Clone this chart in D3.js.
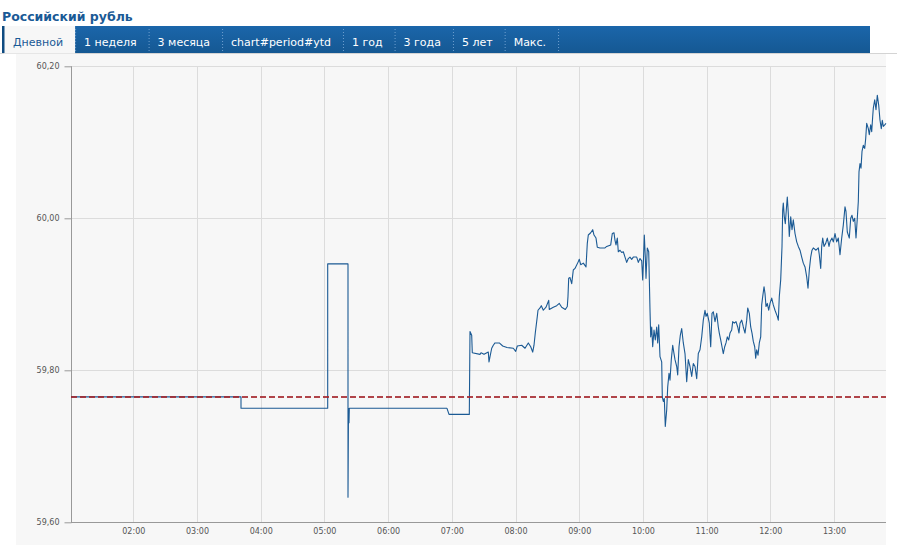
<!DOCTYPE html>
<html>
<head>
<meta charset="utf-8">
<script src="https://cdn.jsdelivr.net/npm/d3@7"></script>
<style>
html,body{margin:0;padding:0;background:#fff;}
svg{display:block;}
</style>
</head>
<body>
<svg id="chart" width="897" height="545"></svg>
<script>
const title = "Российский рубль";
const tabs = ["Дневной", "1 неделя", "3 месяца", "chart#period#ytd", "1 год", "3 года", "5 лет", "Макс."];
const yTicks = [59.6, 59.8, 60.0, 60.2];
const xTickTimes = ["02:00","03:00","04:00","05:00","06:00","07:00","08:00","09:00","10:00","11:00","12:00","13:00"];
const previousClose = 59.765;

const times = [
"01:01:19","03:41:26","03:41:26","05:03:06","05:03:06","05:22:13","05:22:13","05:22:42","05:23:10","05:23:28",
"06:55:28","06:57:22","07:16:29","07:17:08","07:18:44","07:19:18","07:26:34","07:27:30","07:30:20","07:34:22",
"07:35:02","07:35:59","07:37:35","07:39:05","07:40:41","07:44:44","07:47:56","07:51:59","07:57:55","08:00:11",
"08:01:41","08:05:50","08:08:57","08:12:03","08:14:19","08:16:11","08:17:25","08:18:38","08:20:32","08:21:11",
"08:23:04","08:24:18","08:26:11","08:28:43","08:31:16","08:31:50","08:35:36","08:38:48","08:41:15","08:43:31",
"08:46:54","08:48:47","08:49:26","08:50:06","08:51:20","08:52:56","08:54:26","08:56:02","08:59:09","09:00:05",
"09:01:25","09:03:52","09:06:24","09:07:37","09:08:34","09:10:50","09:12:43","09:13:56","09:15:49","09:17:02",
"09:19:35","09:24:18","09:25:54","09:29:40","09:31:10","09:32:46","09:33:43","09:34:40","09:35:53","09:36:49",
"09:38:25","09:40:01","09:41:32","09:43:08","09:44:44","09:46:14","09:47:50","09:49:26","09:50:57","09:54:09",
"09:55:40","09:57:16","09:58:52","09:59:48","10:00:22","10:01:19","10:02:15","10:02:55","10:04:08","10:05:28",
"10:06:01","10:06:41","10:07:20","10:08:17","10:09:13","10:10:27","10:11:40","10:12:59","10:13:56","10:14:52",
"10:16:06","10:17:42","10:18:16","10:19:13","10:20:09","10:21:05","10:22:25","10:23:21","10:24:35","10:25:31",
"10:26:44","10:28:04","10:29:17","10:30:14","10:31:50","10:32:46","10:34:00","10:35:13","10:36:32","10:38:03",
"10:39:39","10:41:15","10:42:45","10:44:21","10:45:58","10:47:28","10:49:04","10:50:40","10:52:10","10:53:46",
"10:55:23","10:56:53","10:58:29","10:59:26","11:00:39","11:02:32","11:03:51","11:05:05","11:06:18","11:07:55",
"11:09:31","11:11:01","11:11:57","11:13:16","11:14:30","11:15:43","11:17:02","11:18:16","11:19:29","11:20:49",
"11:22:02","11:23:38","11:24:35","11:26:05","11:27:41","11:29:17","11:30:31","11:31:27","11:33:04","11:34:34",
"11:36:10","11:37:46","11:38:43","11:40:13","11:41:32","11:42:46","11:43:59","11:45:18","11:46:14","11:47:11",
"11:48:25","11:49:38","11:50:57","11:51:53","11:52:50","11:54:04","11:55:00","11:55:56","11:57:10","11:58:29",
"11:59:43","12:01:19","12:02:49","12:04:25","12:06:35","12:07:32","12:08:28","12:09:47","12:11:01","12:11:40",
"12:12:14","12:13:11","12:14:07","12:15:04","12:16:00","12:16:56","12:17:53","12:19:13","12:20:26","12:21:39",
"12:23:16","12:24:52","12:26:22","12:27:58","12:29:34","12:31:04","12:32:41","12:34:17","12:35:30","12:36:44",
"12:38:03","12:39:16","12:40:29","12:43:02","12:45:12","12:46:08","12:47:28","12:48:24","12:49:21","12:50:34",
"12:52:10","12:53:41","12:55:17","12:56:13","12:58:06","12:59:20","13:00:56","13:02:32","13:04:02","13:05:38",
"13:07:14","13:08:45","13:10:21","13:11:17","13:12:31","13:14:24","13:15:43","13:16:56","13:18:10","13:19:29",
"13:20:43","13:21:56","13:22:53","13:23:32","13:24:29","13:25:25","13:26:22","13:27:35","13:28:55","13:29:51",
"13:30:47","13:32:18","13:33:14","13:34:34","13:35:30","13:36:26","13:37:01","13:38:20","13:39:33","13:40:46",
"13:42:05","13:43:19","13:44:32","13:45:29","13:46:26","13:47:44","13:48:58"
];

const rates = [
59.765,59.765,59.750,59.750,59.940,59.940,59.633,59.750,59.731,59.750,
59.750,59.742,59.742,59.851,59.846,59.823,59.821,59.823,59.821,59.824,
59.811,59.818,59.829,59.833,59.836,59.836,59.832,59.830,59.829,59.825,
59.832,59.833,59.829,59.836,59.831,59.824,59.833,59.849,59.871,59.879,
59.882,59.885,59.879,59.883,59.892,59.880,59.883,59.885,59.888,59.883,
59.880,59.884,59.897,59.921,59.922,59.914,59.932,59.934,59.943,59.946,
59.939,59.941,59.936,59.967,59.978,59.981,59.985,59.978,59.974,59.962,
59.961,59.961,59.963,59.965,59.980,59.981,59.971,59.965,59.974,59.956,
59.958,59.955,59.956,59.949,59.942,59.947,59.949,59.946,59.949,59.949,
59.942,59.947,59.944,59.919,59.939,59.978,59.949,59.921,59.961,59.956,
59.921,59.879,59.844,59.857,59.831,59.853,59.840,59.857,59.836,59.860,
59.818,59.811,59.765,59.759,59.763,59.726,59.748,59.778,59.796,59.787,
59.814,59.833,59.822,59.814,59.805,59.794,59.831,59.846,59.855,59.836,
59.822,59.785,59.814,59.805,59.792,59.809,59.805,59.789,59.822,59.827,
59.844,59.866,59.879,59.871,59.875,59.862,59.831,59.875,59.877,59.864,
59.875,59.857,59.849,59.840,59.831,59.822,59.831,59.836,59.844,59.840,
59.849,59.853,59.864,59.862,59.864,59.857,59.849,59.862,59.866,59.857,
59.849,59.866,59.882,59.875,59.857,59.849,59.838,59.831,59.816,59.827,
59.820,59.836,59.844,59.886,59.897,59.910,59.901,59.884,59.888,59.879,
59.888,59.895,59.886,59.879,59.871,59.866,59.897,59.919,59.963,60.011,
60.020,60.002,59.993,60.011,60.028,60.007,59.976,60.002,59.985,59.998,
59.980,59.969,59.963,59.958,59.949,59.941,59.936,59.923,59.908,59.932,
59.949,59.958,59.961,59.958,59.961,59.952,59.934,59.963,59.974,59.963,
59.967,59.974,59.963,59.969,59.974,59.969,59.980,59.969,59.974,59.952,
59.974,59.991,60.015,60.009,59.982,59.974,60.000,60.004,59.996,60.000,
59.974,60.000,60.022,60.061,60.072,60.066,60.088,60.096,60.092,60.105,
60.125,60.118,60.110,60.123,60.114,60.134,60.145,60.156,60.143,60.162,
60.149,60.129,60.118,60.129,60.121,60.123,60.125
];

const parseT = d3.timeParse("%H:%M:%S");
const parseH = d3.timeParse("%H:%M");
const data = times.map((t, i) => ({ t: parseT(t), v: rates[i] }));

const svg = d3.select("#chart");
const font = "'DejaVu Sans', Verdana, sans-serif";

// Title
svg.append("text").attr("x", 2).attr("y", 21)
  .attr("font-family", font).attr("font-weight", "bold").attr("font-size", 12.5)
  .attr("fill", "#1a5a96").text(title);

// Separator line below tabs
svg.append("line").attr("x1", 0).attr("x2", 897).attr("y1", 53.5).attr("y2", 53.5)
  .attr("stroke", "#d4d4d4");

// Tab bar
const defs = svg.append("defs");
const grad = defs.append("linearGradient").attr("id", "tabg").attr("x1", 0).attr("x2", 0).attr("y1", 0).attr("y2", 1);
grad.append("stop").attr("offset", "0%").attr("stop-color", "#1b66aa");
grad.append("stop").attr("offset", "100%").attr("stop-color", "#155893");
svg.append("rect").attr("x", 2).attr("y", 26).attr("width", 868).attr("height", 27)
  .attr("fill", "url(#tabg)");

const tabG = svg.append("g");
let tabX = 4;
tabs.forEach((label, i) => {
  const g = tabG.append("g");
  const txt = g.append("text").attr("x", tabX + 9).attr("y", 45.5)
    .attr("font-family", font).attr("font-size", 11)
    .attr("fill", i === 0 ? "#1a5a96" : "#ffffff").text(label);
  const w = txt.node().getComputedTextLength();
  const tabW = w + 21;
  if (i === 0) {
    g.insert("rect", "text").attr("x", tabX).attr("y", 26).attr("width", tabW).attr("height", 27.5)
      .attr("fill", "#f7f7f7");
  }
  const sep = tabX + tabW;
  g.append("line").attr("x1", sep + 0.5).attr("x2", sep + 0.5).attr("y1", 29).attr("y2", 52)
    .attr("stroke", "#6f9fcf").attr("stroke-dasharray", "1,2");
  tabX = sep;
});
svg.append("rect").attr("x", 2).attr("y", 26).attr("width", 2.5).attr("height", 27).attr("fill", "#0e4a80");

// Chart panel
svg.append("rect").attr("x", 16).attr("y", 54).attr("width", 870).attr("height", 491)
  .attr("fill", "#f7f7f7");

const pLeft = 71, pRight = 886, pTop = 66.3, pBottom = 522.3;
const x = d3.scaleTime().domain([data[0].t, data[data.length - 1].t]).range([pLeft, pRight]);
const y = d3.scaleLinear().domain([59.6, 60.2]).range([pBottom, pTop]);

// Grid
const grid = svg.append("g");
grid.selectAll("line.h").data(yTicks.slice(1)).join("line")
  .attr("x1", pLeft).attr("x2", pRight)
  .attr("y1", d => Math.round(y(d)) + 0.5).attr("y2", d => Math.round(y(d)) + 0.5)
  .attr("stroke", "#dcdcdc");
grid.selectAll("line.v").data(xTickTimes).join("line")
  .attr("x1", d => Math.round(x(parseH(d))) + 0.5).attr("x2", d => Math.round(x(parseH(d))) + 0.5)
  .attr("y1", pTop).attr("y2", pBottom)
  .attr("stroke", "#dcdcdc");

// Axes
const fmtY = v => d3.format(".2f")(v).replace(".", ",");
const yAxis = d3.axisLeft(y).tickValues(yTicks).tickFormat(fmtY).tickSize(7).tickPadding(5);
const gy = svg.append("g").attr("transform", `translate(${pLeft + 0.5},0)`).call(yAxis);
gy.select(".domain").attr("stroke", "#999").attr("d", `M0,${pTop}V${pBottom}`);
gy.selectAll(".tick line").attr("stroke", "#999");
gy.selectAll(".tick text").attr("font-family", font).attr("font-size", 8).attr("fill", "#555");

const xAxis = d3.axisBottom(x).tickValues(xTickTimes.map(parseH)).tickFormat(d3.timeFormat("%H:%M")).tickSize(0).tickPadding(6);
const gx = svg.append("g").attr("transform", `translate(0,${Math.round(pBottom) + 0.5})`).call(xAxis);
gx.select(".domain").attr("stroke", "#999").attr("d", `M${pLeft},0H${pRight}`);
gx.selectAll(".tick text").attr("font-family", font).attr("font-size", 8).attr("fill", "#555");

// Price line
const line = d3.line().x(d => x(d.t)).y(d => y(d.v));
svg.append("path").datum(data).attr("d", line)
  .attr("fill", "none").attr("stroke", "#1b5a94").attr("stroke-width", 1.1)
  .attr("stroke-linejoin", "round");

// Previous close dashed line
svg.append("line").attr("x1", pLeft).attr("x2", pRight)
  .attr("y1", y(previousClose)).attr("y2", y(previousClose))
  .attr("stroke", "#a3242a").attr("stroke-opacity", 0.85).attr("stroke-width", 2)
  .attr("stroke-dasharray", "6,3");
</script>
</body>
</html>
